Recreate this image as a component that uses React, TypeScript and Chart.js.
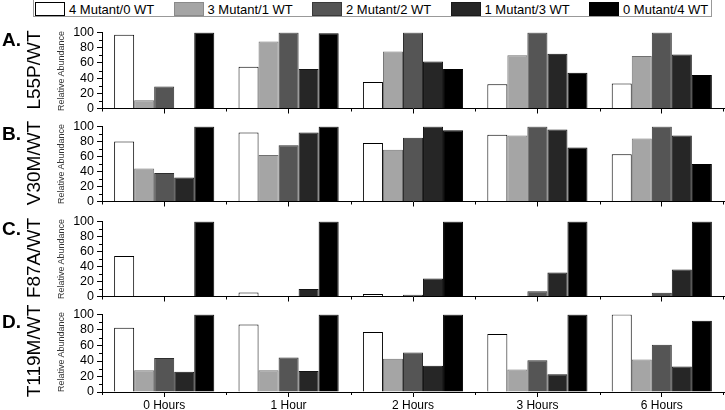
import React, { useEffect, useRef } from 'react';
import { Chart, registerables } from 'chart.js';

Chart.register(...registerables);

const FONT = "'Liberation Sans', Arial, Helvetica, sans-serif";

const categories = ['0 Hours', '1 Hour', '2 Hours', '3 Hours', '6 Hours'];
const seriesLabels = ['4 Mutant/0 WT', '3 Mutant/1 WT', '2 Mutant/2 WT', '1 Mutant/3 WT', '0 Mutant/4 WT'];
const fillColors = ['#ffffff', '#a5a5a5', '#555555', '#262626', '#000000'];
const borderColors = ['#000000', '#707070', '#2e2e2e', '#141414', '#000000'];
const yTickValues = [0, 20, 40, 60, 80, 100];
const yMinorValues = [10, 30, 50, 70, 90];

// Panel A: L55P/WT
const l55p4M0 = [97, 55, 35, 32, 33];
const l55p3M1 = [11, 88, 75, 70, 69];
const l55p2M2 = [29, 100, 100, 100, 100];
const l55p1M3 = [0, 52, 62, 72, 71];
const l55p0M4 = [100, 99, 52, 47, 44];

// Panel B: V30M/WT
const v30m4M0 = [80, 92, 78, 89, 63];
const v30m3M1 = [44, 62, 69, 88, 84];
const v30m2M2 = [38, 75, 85, 100, 100];
const v30m1M3 = [32, 92, 100, 96, 88];
const v30m0M4 = [100, 100, 95, 72, 50];

// Panel C: F87A/WT
const f87a4M0 = [54, 5.5, 3.5, 0, 0];
const f87a3M1 = [0, 0, 0, 0, 0];
const f87a2M2 = [0, 0, 2.5, 7, 5];
const f87a1M3 = [0, 10, 24, 32, 36];
const f87a0M4 = [100, 100, 100, 100, 100];

// Panel D: T119M/WT
const t119m4M0 = [83, 87, 77.5, 75, 100];
const t119m3M1 = [28, 28, 43, 29, 42];
const t119m2M2 = [44, 44.5, 51, 41, 61];
const t119m1M3 = [26, 27, 34, 23, 33];
const t119m0M4 = [100, 100, 100, 100, 92];

const panels = [
  { letter: 'A.', name: 'L55P/WT', series: [l55p4M0, l55p3M1, l55p2M2, l55p1M3, l55p0M4], canvasTop: 22, areaH: 79, axisH: 8, labels: false },
  { letter: 'B.', name: 'V30M/WT', series: [v30m4M0, v30m3M1, v30m2M2, v30m1M3, v30m0M4], canvasTop: 116, areaH: 78, axisH: 8, labels: false },
  { letter: 'C.', name: 'F87A/WT', series: [f87a4M0, f87a3M1, f87a2M2, f87a1M3, f87a0M4], canvasTop: 211, areaH: 78, axisH: 8, labels: false },
  { letter: 'D.', name: 'T119M/WT', series: [t119m4M0, t119m3M1, t119m2M2, t119m1M3, t119m0M4], canvasTop: 304, areaH: 78, axisH: 18, labels: true },
];

const PAD_TOP = 10;
const WIDTH = 725;
const AXIS_LEFT = 102;

const minorTicks = {
  id: 'minorTicks',
  afterDraw(chart: any) {
    const { ctx } = chart;
    const x = chart.scales.x;
    const y = chart.scales.y;
    const n = categories.length;
    const w = (x.right - x.left) / n;
    ctx.save();
    ctx.strokeStyle = '#000';
    ctx.lineWidth = 1;
    ctx.beginPath();
    for (let i = 0; i < n; i++) {
      const c = x.getPixelForValue(i);
      const b1 = Math.round(c - w / 2) + 0.5;
      ctx.moveTo(b1, x.top);
      ctx.lineTo(b1, x.top + 3);
    }
    const bEnd = Math.round(x.getPixelForValue(n - 1) + w / 2) - 0.5;
    ctx.moveTo(bEnd, x.top);
    ctx.lineTo(bEnd, x.top + 3);
    for (const v of yMinorValues) {
      const py = Math.round(y.getPixelForValue(v)) + 0.5;
      ctx.moveTo(y.right - 3, py);
      ctx.lineTo(y.right, py);
    }
    ctx.stroke();
    ctx.restore();
  },
};

function Panel({ p }: { p: any }) {
  const ref = useRef<HTMLCanvasElement | null>(null);
  const h = PAD_TOP + p.areaH + p.axisH;
  useEffect(() => {
    if (!ref.current) return;
    const chart = new Chart(ref.current, {
      type: 'bar',
      data: {
        labels: categories,
        datasets: p.series.map((d: number[], i: number) => ({
          label: seriesLabels[i],
          data: d,
          backgroundColor: fillColors[i],
          borderColor: borderColors[i],
          borderWidth: 1,
          categoryPercentage: 0.805,
          barPercentage: 1,
        })),
      },
      options: {
        animation: false,
        responsive: false,
        maintainAspectRatio: false,
        layout: { padding: { top: PAD_TOP, right: 1, left: 0, bottom: 0 } },
        plugins: { legend: { display: false }, tooltip: { enabled: false }, title: { display: false } },
        scales: {
          x: {
            type: 'category',
            offset: true,
            afterFit: (s: any) => { s.height = p.axisH; },
            grid: { display: true, drawOnChartArea: false, drawTicks: true, tickLength: 5, color: '#000', offset: false },
            border: { display: true, color: '#000', width: 1 },
            ticks: { display: p.labels, color: '#000', font: { family: FONT, size: 12 }, padding: 1, maxRotation: 0, autoSkip: false },
          },
          y: {
            min: 0,
            max: 100,
            afterFit: (s: any) => { s.width = AXIS_LEFT; },
            afterBuildTicks: (s: any) => { s.ticks = yTickValues.map((v) => ({ value: v })); },
            grid: { display: true, drawOnChartArea: false, drawTicks: true, tickLength: 5, color: '#000' },
            border: { display: true, color: '#000', width: 1 },
            ticks: { color: '#000', font: { family: FONT, size: 12.5 }, padding: 3, autoSkip: false },
          },
        },
      },
      plugins: [minorTicks],
    } as any);
    return () => chart.destroy();
  }, []);
  const areaTop = p.canvasTop + PAD_TOP;
  const mid = areaTop + p.areaH / 2;
  return (
    <>
      <canvas
        ref={ref}
        width={WIDTH}
        height={h}
        style={{ position: 'absolute', left: 0, top: p.canvasTop, width: WIDTH, height: h }}
      />
      <div style={{ position: 'absolute', left: 2, top: areaTop + 8, transform: 'translateY(-50%)', font: `bold 19px ${FONT}`, color: '#000', lineHeight: '20px' }}>
        {p.letter}
      </div>
      <div style={{ position: 'absolute', left: 34, top: mid - 2, transform: 'translate(-50%, -50%) rotate(-90deg)', font: `19px ${FONT}`, color: '#000', whiteSpace: 'nowrap', lineHeight: '20px' }}>
        {p.name}
      </div>
      <div style={{ position: 'absolute', left: 61, top: mid - 1, transform: 'translate(-50%, -50%) rotate(-90deg)', font: `9px ${FONT}`, color: '#333', whiteSpace: 'nowrap', lineHeight: '10px' }}>
        Relative Abundance
      </div>
    </>
  );
}

function Legend() {
  const swatchBorders = ['#000', '#8a8a8a', '#3a3a3a', '#1a1a1a', '#000'];
  return (
    <div style={{ position: 'absolute', left: 33, top: -2, width: 679, height: 19, borderLeft: '1.5px solid #999', borderRight: '1.5px solid #999', borderBottom: '1.5px solid #999', boxSizing: 'border-box' }}>
      {seriesLabels.map((s, i) => (
        <React.Fragment key={s}>
          <div style={{ position: 'absolute', left: 1 + i * 138.5, top: 4, width: 30, height: 14, boxSizing: 'border-box', background: fillColors[i], border: `1px solid ${swatchBorders[i]}` }} />
          <div style={{ position: 'absolute', left: 35 + i * 138.5, top: 4, height: 14, lineHeight: '14px', font: `13px ${FONT}`, color: '#000', whiteSpace: 'nowrap' }}>
            {s}
          </div>
        </React.Fragment>
      ))}
    </div>
  );
}

export default function App() {
  return (
    <div style={{ position: 'absolute', left: 0, top: 0, width: WIDTH, height: 410, background: '#fff', overflow: 'hidden' }}>
      <Legend />
      {panels.map((p) => (
        <Panel key={p.letter} p={p} />
      ))}
    </div>
  );
}
